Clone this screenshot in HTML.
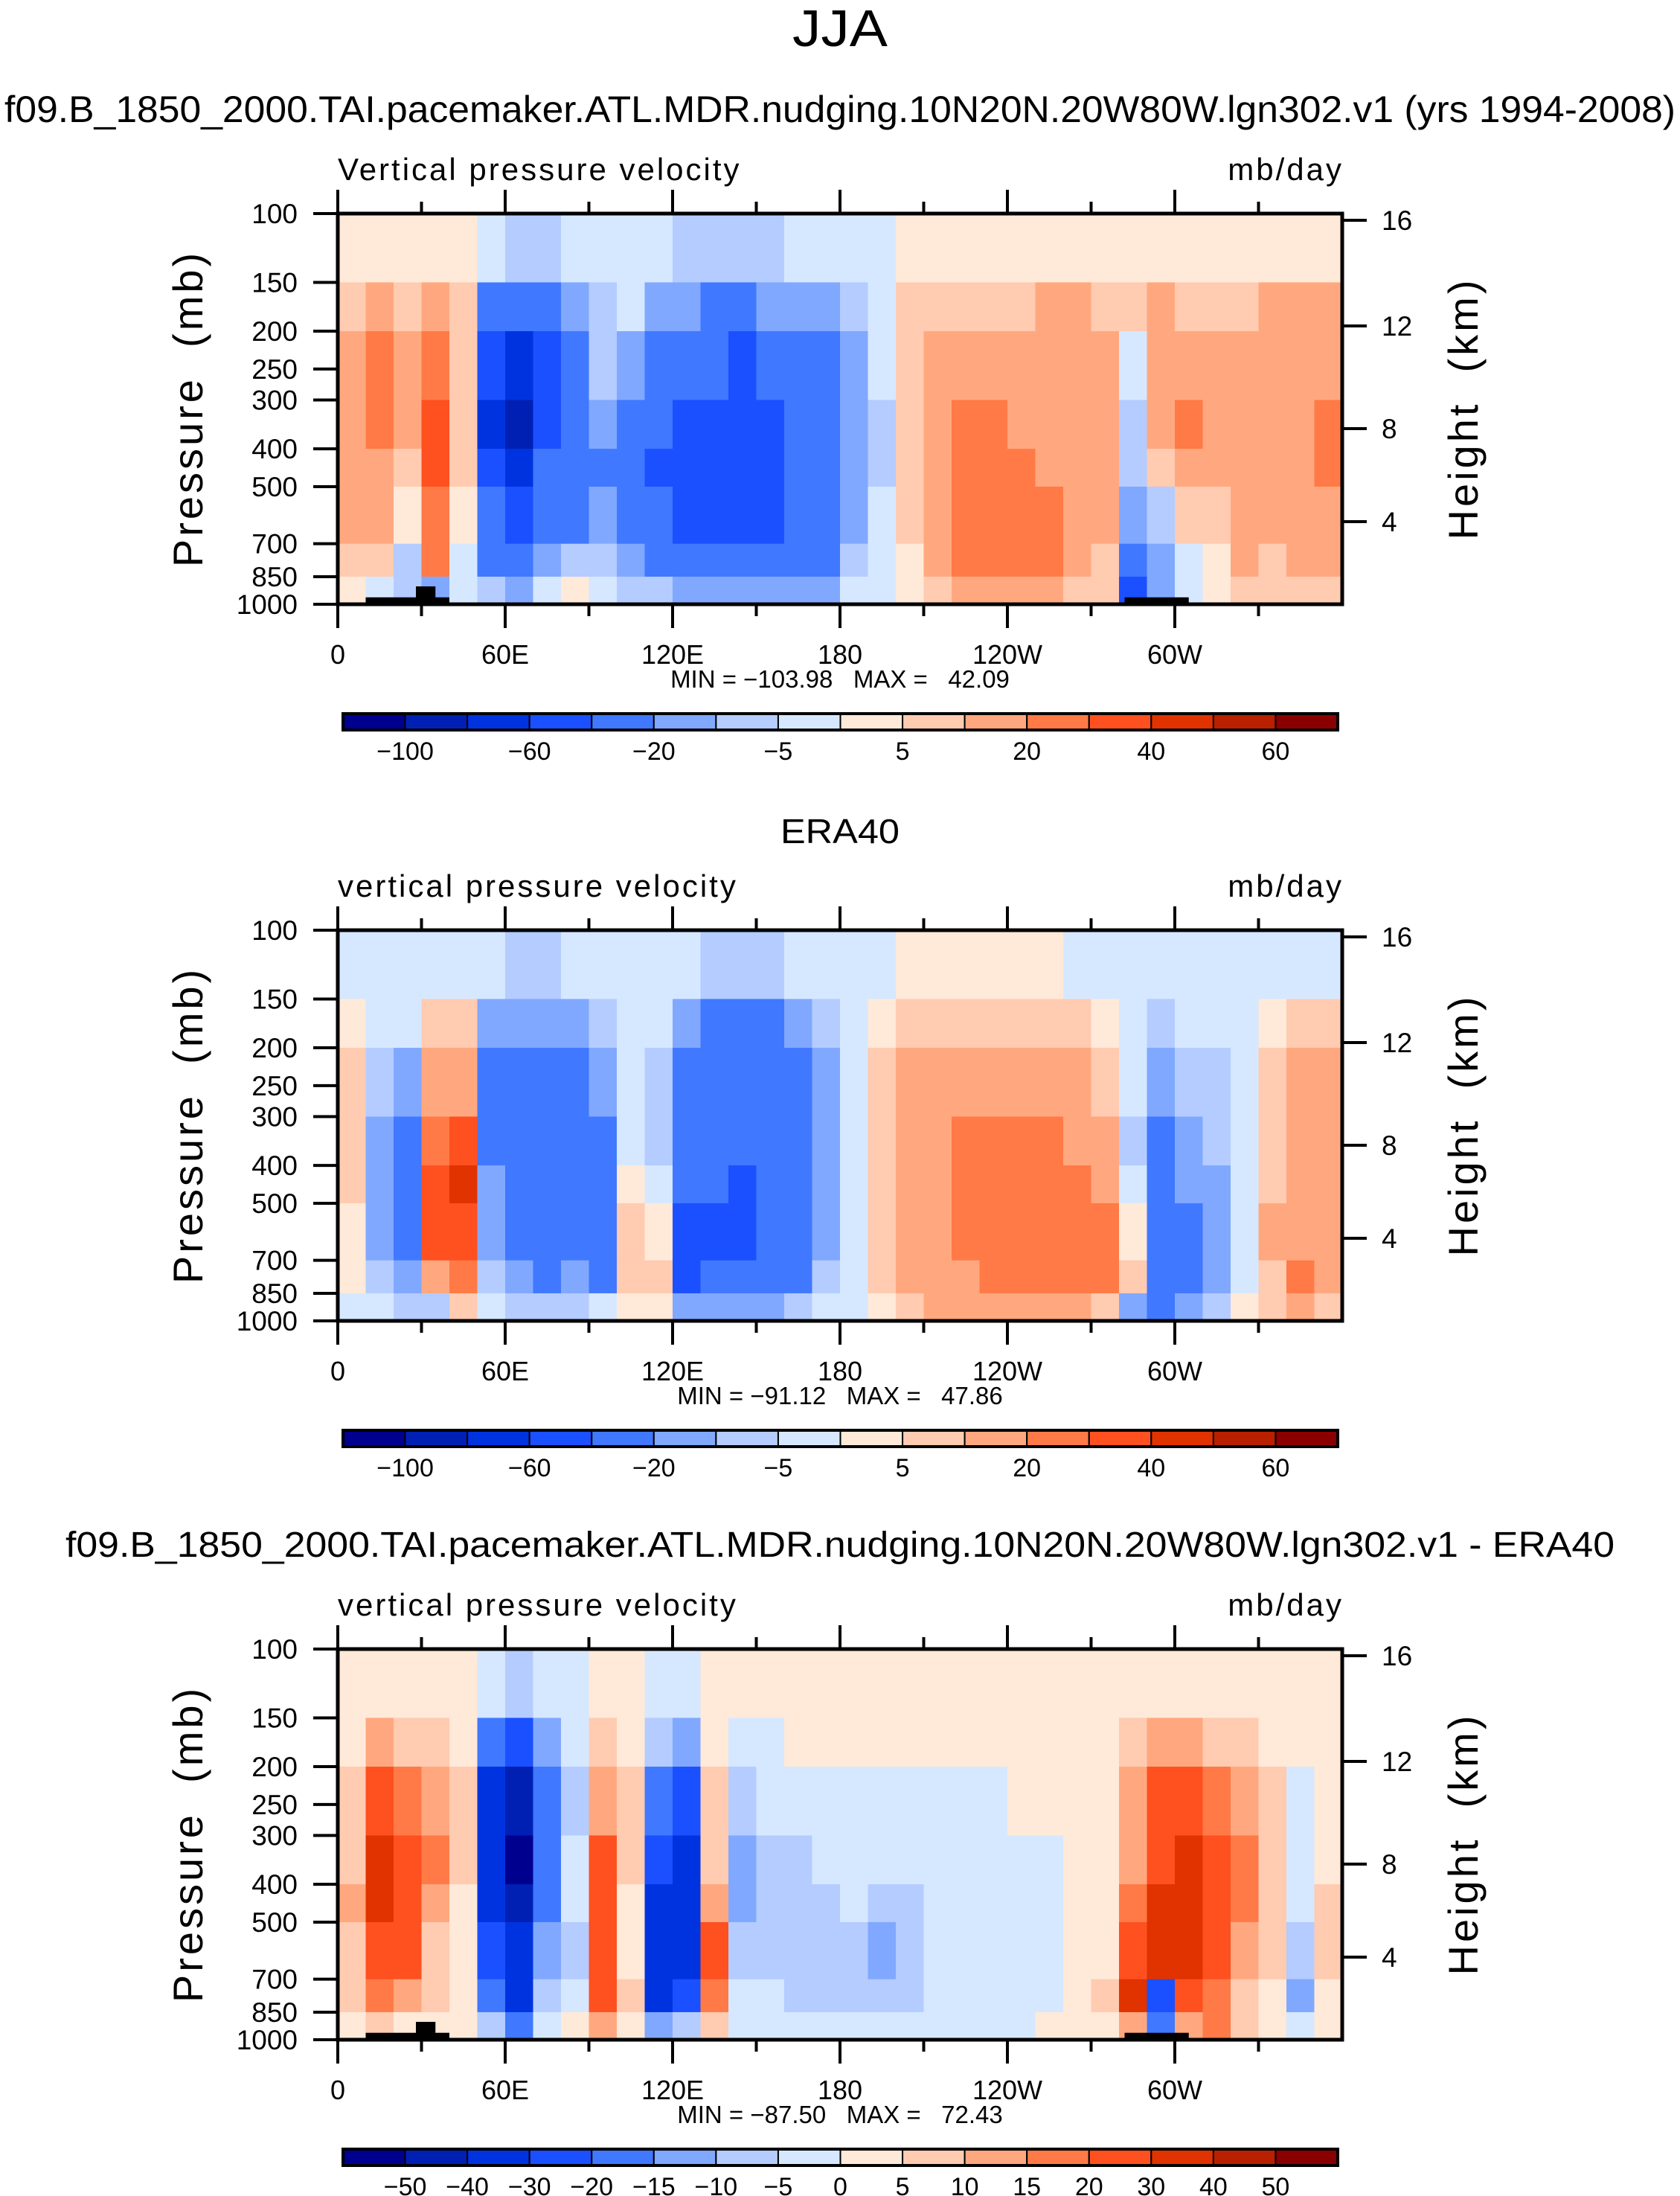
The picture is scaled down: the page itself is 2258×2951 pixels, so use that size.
<!DOCTYPE html>
<html><head><meta charset="utf-8">
<style>
html,body{margin:0;padding:0;background:#fff;}
svg{display:block;}
text{font-family:"Liberation Sans",sans-serif;fill:#000;white-space:pre;}
</style></head>
<body>
<svg id="fig" width="2258" height="2951" viewBox="0 0 2258 2951" xmlns="http://www.w3.org/2000/svg">
<text x="1129" y="62" font-size="70" text-anchor="middle" textLength="128" lengthAdjust="spacingAndGlyphs">JJA</text>
</svg>
<script>
// ---- data ----
const lonCenters = [5,15,25,35,45,55,65,75,85,95,105,115,125,135,145,155,165,175,185,195,205,215,225,235,245,255,265,275,285,295,305,315,325,335,345,355];
const levelEdges = [100,150,200,300,400,500,700,850,1000];
const xTickLabels = ["0","60E","120E","180","120W","60W"];
const xTickLons = [0,60,120,180,240,300];
const pTickLabels = [100,150,200,250,300,400,500,700,850,1000];
const hTickLabels = ["16","12","8","4"];
const levelsAbs = [-100,-80,-60,-40,-20,-10,-5,0,5,10,20,30,40,50,60];
const levelsAbsLabels = ["-100","-60","-20","-5","5","20","40","60"];
const levelsDiff = [-50,-40,-30,-20,-15,-10,-5,0,5,10,15,20,30,40,50];
const levelsDiffLabels = ["-50","-40","-30","-20","-15","-10","-5","0","5","10","15","20","30","40","50"];
const colors = ["#00008f","#0020b4","#0033e0","#1a50ff","#4078ff","#80a8ff","#b4ccff","#d6e8ff","#ffe9d8","#ffcbb1","#ffa87f","#ff7a46","#ff5020","#e03300","#b82000","#8a0000"];
const modelVals = [
[3,8,15,15,15,12,8,3],[3,12,20,22,18,15,5,-5],[3,8,12,10,8,3,-8,-10],[3,10,25,32,32,28,20,-15],
[2,5,8,8,5,3,-5,-5],[-5,-30,-50,-70,-50,-40,-25,-10],[-8,-40,-80,-90,-65,-45,-30,-15],[-8,-30,-45,-45,-40,-30,-15,-5],
[-5,-20,-30,-35,-35,-25,-10,3],[-3,-8,-10,-20,-25,-20,-10,-5],[-3,-5,-15,-30,-35,-30,-20,-8],[-5,-15,-30,-40,-45,-40,-25,-10],
[-8,-20,-40,-45,-50,-45,-30,-15],[-10,-25,-40,-50,-50,-45,-30,-20],[-10,-25,-45,-55,-55,-50,-35,-20],[-8,-20,-40,-50,-50,-50,-35,-20],
[-5,-20,-35,-40,-40,-40,-30,-20],[-5,-15,-25,-30,-30,-25,-25,-15],[-5,-10,-15,-20,-20,-15,-10,-5],[-5,-5,-5,-8,-8,-5,-5,-3],
[2,5,5,5,5,5,3,2],[3,8,12,15,15,15,12,8],[3,8,15,22,25,25,22,15],[3,8,15,22,25,25,25,15],
[3,8,15,18,22,25,22,15],[3,10,15,18,18,20,22,15],[3,10,15,15,15,15,12,8],[3,8,12,12,12,10,5,5],
[3,5,-5,-10,-10,-20,-40,-50],[3,10,15,15,5,-10,-20,-20],[3,8,15,20,15,8,-5,-5],[3,8,15,15,15,8,3,3],
[3,8,15,15,15,10,15,5],[3,10,15,15,15,12,8,5],[3,10,15,18,18,15,12,8],[3,10,15,22,22,15,12,8]];
const eraVals = [
[-3,3,5,5,5,3,3,-3],[-3,-5,-10,-15,-15,-15,-10,-5],[-3,-5,-15,-25,-25,-25,-20,-10],[-3,8,15,25,35,30,15,-10],
[-3,8,15,30,40,30,20,5],[-5,-15,-25,-25,-20,-15,-10,-3],[-8,-20,-30,-35,-30,-30,-20,-8],[-8,-20,-30,-35,-30,-30,-25,-10],
[-5,-15,-25,-25,-25,-25,-15,-8],[-5,-10,-20,-30,-40,-40,-35,-5],[-5,-5,-5,-5,3,5,5,3],[-5,-5,-8,-8,-5,3,5,3],
[-5,-20,-30,-35,-40,-50,-45,-20],[-8,-25,-35,-40,-40,-45,-40,-15],[-8,-25,-35,-40,-50,-45,-40,-15],[-8,-25,-35,-35,-40,-40,-30,-15],
[-5,-20,-25,-30,-30,-30,-25,-10],[-5,-10,-15,-15,-15,-15,-10,-5],[-5,-5,-5,-5,-5,-5,-5,-3],[-3,3,5,5,5,5,5,3],
[3,5,12,15,15,15,12,8],[3,8,15,18,18,18,15,10],[3,8,15,20,20,20,18,12],[3,8,15,20,22,22,20,12],
[3,8,15,20,22,22,22,15],[3,5,12,20,20,22,22,15],[-3,5,12,15,20,22,20,12],[-3,3,8,12,15,22,20,8],
[-3,-3,-5,-8,-5,3,8,-20],[-3,-8,-15,-25,-30,-35,-40,-30],[-3,-5,-10,-15,-20,-25,-25,-15],[-3,-5,-10,-10,-15,-20,-20,-10],
[-3,-3,-5,-5,-5,-5,-3,3],[-3,3,5,8,8,10,8,5],[-3,5,12,15,15,18,22,10],[-3,5,10,12,12,12,10,5]];
const diffVals = [
[3,3,5,8,10,8,5,3],[3,10,22,32,30,25,15,5],[3,8,15,25,25,22,12,3],[3,5,12,15,12,8,5,3],
[3,3,5,5,3,3,3,3],[-5,-20,-35,-35,-35,-30,-20,-8],[-8,-30,-45,-55,-50,-40,-35,-20],[-5,-12,-20,-20,-20,-15,-10,-5],
[-3,-5,-8,-5,-5,-8,-3,3],[3,5,12,20,22,22,20,12],[3,3,5,5,3,3,5,3],[-3,-8,-20,-30,-35,-40,-40,-15],
[-3,-12,-25,-35,-40,-35,-30,-10],[3,3,5,8,12,20,15,5],[3,-3,-10,-15,-12,-10,-5,-3],[3,-3,-5,-8,-10,-8,-5,-3],
[3,3,-5,-8,-10,-10,-8,-3],[3,3,-3,-5,-8,-10,-10,-3],[3,3,-3,-5,-5,-8,-8,-5],[3,3,-3,-5,-10,-12,-10,-5],
[3,3,-3,-5,-8,-10,-8,-5],[3,3,-3,-5,-5,-5,-5,-3],[3,3,-3,-3,-5,-5,-5,-3],[3,3,-3,-3,-5,-5,-5,-3],
[3,3,3,-3,-5,-5,-3,-3],[3,3,3,-3,-3,-5,-3,3],[3,3,3,3,3,3,3,3],[3,3,3,3,3,3,5,3],
[3,8,12,12,15,20,30,10],[3,12,20,25,30,30,-30,-20],[3,10,20,35,35,30,20,10],[3,8,15,25,25,25,15,15],
[3,5,10,15,15,12,8,5],[3,3,5,5,5,5,3,3],[3,3,-3,-5,-5,-10,-12,-5],[3,3,3,3,5,5,3,3]];
const topoLonStart = [10,28,282];
const topoLonEnd = [40,35,305];
const topoTopP = [960,900,960];

const svg = document.getElementById('fig');
const NS = 'http://www.w3.org/2000/svg';
function mk(tag, attrs, parent){ const e=document.createElementNS(NS,tag); for(const k in attrs) e.setAttribute(k,attrs[k]); (parent||svg).appendChild(e); return e; }
const X0=454, X1=1804, H=525;
function xOf(lon){ return X0 + lon/360*(X1-X0); }
function yOf(p, top){ return top + Math.log10(p/100)*H; }
function colorFor(v, lev){ let i=0; while(i<lev.length && v>=lev[i]) i++; return colors[i]; }
function txt(x,y,s,size,anchor,parent){ const t=mk('text',{x:x,y:y,'font-size':size,'text-anchor':anchor||'start'},parent); t.textContent=s; return t; }

const hTickOffsets=[9,151,289,414];

function panel(top, vals, lev, levLabels, labelIdx, label, minmax, name, topo){
  const g = mk('g',{});
  
  
  const dw=(X1-X0)/lonCenters.length;
  for(let i=0;i<lonCenters.length;i++){
    for(let j=0;j<levelEdges.length-1;j++){
      const ya=yOf(levelEdges[j],top), yb=yOf(levelEdges[j+1],top);
      const r=mk('rect',{x:(xOf(lonCenters[i])-dw/2).toFixed(2),y:ya.toFixed(2),width:(dw+0.6).toFixed(2),height:(yb-ya+0.6).toFixed(2),fill:colorFor(vals[i][j],lev)},g);
      
      
    }
  }
  if(topo){
    for(let k=0;k<topoLonStart.length;k++){
      const r=mk('rect',{x:xOf(topoLonStart[k]),y:yOf(topoTopP[k],top),width:xOf(topoLonEnd[k])-xOf(topoLonStart[k]),height:yOf(1000,top)-yOf(topoTopP[k],top),fill:'#000'},g);
      
      
    }
  }
  const fr=mk('rect',{x:X0,y:top,width:X1-X0,height:H,fill:'none',stroke:'#000','stroke-width':5},g);
  
  
  for(let lon=0;lon<360;lon+=30){
    const major = lon%60===0, x=xOf(lon), L=major?32:16;
    mk('line',{x1:x,y1:top,x2:x,y2:top-L,stroke:'#000','stroke-width':4},g);
    mk('line',{x1:x,y1:top+H,x2:x,y2:top+H+L,stroke:'#000','stroke-width':4},g);
  }
  for(let k=0;k<xTickLabels.length;k++){
    const t=txt(xOf(xTickLons[k]),top+H+80,xTickLabels[k],36,'middle',g);
    
    
  }
  for(const p of pTickLabels){
    const y=yOf(p,top);
    mk('line',{x1:X0-33,y1:y,x2:X0,y2:y,stroke:'#000','stroke-width':4},g);
    const t=txt(400,y+13,String(p),37,'end',g);
    
    
  }
  for(let k=0;k<hTickLabels.length;k++){
    const y=top+hTickOffsets[k];
    mk('line',{x1:X1,y1:y,x2:X1+33,y2:y,stroke:'#000','stroke-width':4},g);
    const t=txt(1857,y+13,hTickLabels[k],37,'start',g);
    
    
  }
  const yl=txt(0,0,'Pressure  (mb)',56,'middle',g);
  yl.setAttribute('transform','translate(272,'+(top+262)+') rotate(-90)');
  yl.setAttribute('letter-spacing','4');
  
  
  const hl=txt(0,0,'Height  (km)',56,'middle',g);
  hl.setAttribute('transform','translate(1986,'+(top+262)+') rotate(-90)');
  hl.setAttribute('letter-spacing','4');
  
  
  const lt=txt(X0,top-45,label,42,'start',g);
  lt.setAttribute('letter-spacing','3');
  
  
  const ut=txt(X1+2,top-45,'mb/day',42,'end',g);
  ut.setAttribute('letter-spacing','3');
  
  
  const mm=txt(1129,top+H+112,minmax,33,'middle',g);
  
  
  const cb=mk('g',{},g);
  
  
  const cx0=461, cx1=1798, cy=top+672, ch=22, bw=(cx1-cx0)/16;
  for(let k=0;k<16;k++){
    mk('rect',{x:cx0+k*bw,y:cy,width:bw,height:ch,fill:colors[k],stroke:'#000','stroke-width':2},cb);
  }
  mk('rect',{x:cx0,y:cy,width:cx1-cx0,height:ch,fill:'none',stroke:'#000','stroke-width':4},cb);
  for(let k=0;k<levLabels.length;k++){
    const bi=labelIdx[k];
    const t=txt(cx0+(bi+1)*bw,cy+62,levLabels[k].replace('-','\u2212'),34,'middle',cb);
    
    
  }
}

function st(y,s,size,len,bold,name){
  const t=txt(1129,y,s,size,'middle');
  if(len){t.setAttribute('textLength',len);t.setAttribute('lengthAdjust','spacingAndGlyphs');}
  if(bold) t.setAttribute('font-weight','bold');
  
  
}
st(164,'f09.B_1850_2000.TAI.pacemaker.ATL.MDR.nudging.10N20N.20W80W.lgn302.v1 (yrs 1994-2008)',50,2246,false,'model-title');
st(1133,'ERA40',46,160,false,'era-title');
st(2092,'f09.B_1850_2000.TAI.pacemaker.ATL.MDR.nudging.10N20N.20W80W.lgn302.v1 - ERA40',48,2082,false,'diff-title');

panel(287, modelVals, levelsAbs, levelsAbsLabels, [0,2,4,6,8,10,12,14], 'Vertical pressure velocity', 'MIN = \u2212103.98   MAX =   42.09', 'model-panel', true);
panel(1250, eraVals, levelsAbs, levelsAbsLabels, [0,2,4,6,8,10,12,14], 'vertical pressure velocity', 'MIN = \u221291.12   MAX =   47.86', 'era-panel', false);
panel(2216, diffVals, levelsDiff, levelsDiffLabels, [0,1,2,3,4,5,6,7,8,9,10,11,12,13,14], 'vertical pressure velocity', 'MIN = \u221287.50   MAX =   72.43', 'diff-panel', true);
</script>
</body></html>
